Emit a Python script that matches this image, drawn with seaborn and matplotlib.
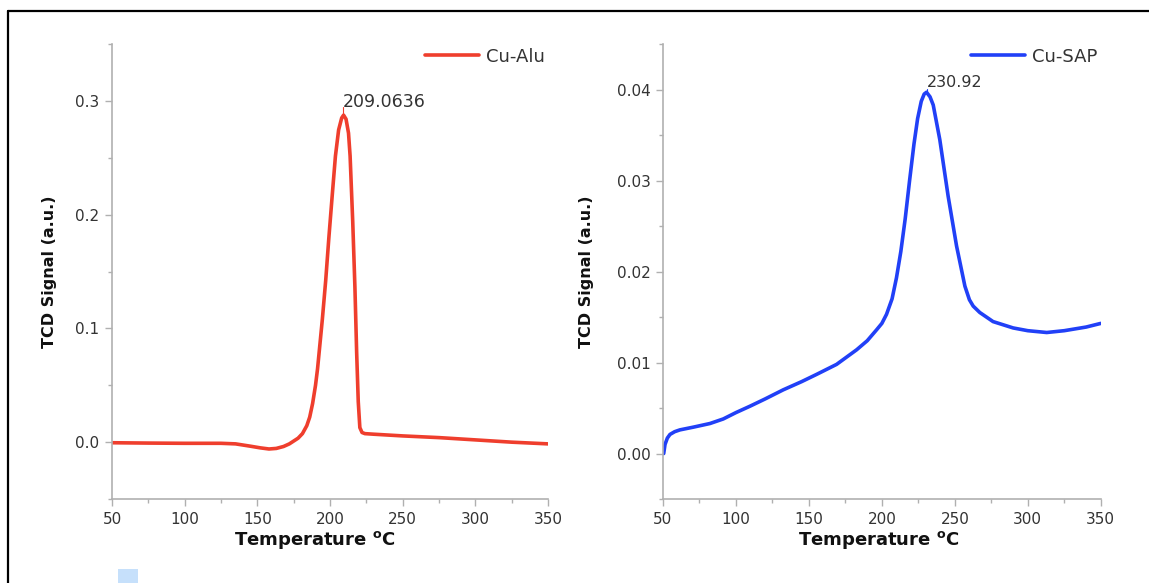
import numpy as np
import pandas as pd
import matplotlib
matplotlib.use("Agg")
import matplotlib.pyplot as plt
from matplotlib.lines import Line2D
from matplotlib.patches import Rectangle
from matplotlib.ticker import MultipleLocator
import seaborn as sns

# ---------------- data ----------------
alu_temp = [50, 75, 100, 125, 135, 145, 152, 158, 163, 168, 172, 175, 178, 181,
            184, 186, 188, 190, 191.4, 194.7, 197, 199.2, 201.5, 203.7, 205.9,
            208, 209.3, 211, 212.7, 213.8, 215.6, 217.1, 218.3, 219.4, 220.5,
            222, 224, 230, 250, 275, 300, 325, 350]
alu_signal = [-0.0005, -0.0008, -0.001, -0.001, -0.0015, -0.0035, -0.005, -0.006,
              -0.0055, -0.0038, -0.0015, 0.001, 0.0035, 0.0075, 0.0145, 0.022,
              0.034, 0.05, 0.0645, 0.108, 0.142, 0.18, 0.217, 0.2515, 0.2745,
              0.285, 0.2875, 0.284, 0.2717, 0.2515, 0.194, 0.1365, 0.079, 0.0357,
              0.0128, 0.0085, 0.0075, 0.007, 0.0055, 0.004, 0.002, 0.0, -0.0015]

sap_temp = [50.5, 51.4, 53, 54.8, 58, 61.6, 70.8, 82.2, 91.3, 100, 109.6, 120,
            132.4, 145, 155.3, 169, 182.7, 190, 196.4, 200, 203.2, 207, 210, 213,
            216, 219, 222, 224.5, 227, 229, 230.6, 233, 235.2, 239.7, 245.4,
            251.2, 256.9, 260, 262.6, 267.1, 276.2, 290, 300, 313, 325, 340, 350]
sap_signal = [0.0, 0.001, 0.0017, 0.0021, 0.0024, 0.0026, 0.0029, 0.0033, 0.0038,
              0.0045, 0.0052, 0.006, 0.007, 0.0079, 0.0087, 0.0098, 0.0114,
              0.0124, 0.0136, 0.0143, 0.0153, 0.017, 0.0193, 0.0222, 0.0258,
              0.03, 0.034, 0.0368, 0.0387, 0.0395, 0.0397, 0.0392, 0.0383,
              0.0345, 0.0283, 0.0228, 0.0184, 0.0169, 0.0162, 0.0155, 0.0145,
              0.0138, 0.0135, 0.0133, 0.0135, 0.0139, 0.0143]

series_labels = ["Cu-Alu", "Cu-SAP"]
peak_labels = ["209.0636", "230.92"]
xticks = [50, 100, 150, 200, 250, 300, 350]
alu_yticks = [0.0, 0.1, 0.2, 0.3]
sap_yticks = [0.00, 0.01, 0.02, 0.03, 0.04]

# ---------------- style ----------------
sns.set_style("ticks")
plt.rcParams['font.family'] = ['DejaVu Sans']
plt.rcParams['mathtext.fontset'] = 'dejavusans'

fig = plt.figure(figsize=(11.49, 5.83), dpi=100)
ax1 = fig.add_axes([0.0975, 0.144, 0.3795, 0.7805])
ax2 = fig.add_axes([0.577, 0.144, 0.381, 0.7805])

spine_col = '#b0b0b0'
tick_lbl_col = '#333333'

panels = [
    (ax1, alu_temp, alu_signal, '#ef3e2d', series_labels[0], peak_labels[0],
     (-0.05, 0.35), alu_yticks, 0.05, '{:.1f}', 0.466, 0.007, 12.5),
    (ax2, sap_temp, sap_signal, '#2140f7', series_labels[1], peak_labels[1],
     (-0.005, 0.045), sap_yticks, 0.005, '{:.2f}', 0.494, 0.0004, 11.5),
]

for (ax, xs, ys, col, lab, plab, ylim, yt, yminor, fmt, xlab_x, stem, afs) in panels:
    df = pd.DataFrame({'Temperature': xs, 'Signal': ys})
    sns.lineplot(data=df, x='Temperature', y='Signal', ax=ax, color=col,
                 linewidth=2.6, label=lab, sort=True, estimator=None)
    for ln in ax.lines:
        ln.set_solid_joinstyle('round')
        ln.set_solid_capstyle('round')
    ax.set_xlim(50, 350)
    ax.set_ylim(*ylim)
    ax.set_xticks(xticks)
    ax.set_yticks(yt)
    ax.set_yticklabels([fmt.format(v) for v in yt])
    ax.xaxis.set_minor_locator(MultipleLocator(25))
    ax.yaxis.set_minor_locator(MultipleLocator(yminor))
    ax.tick_params(axis='both', which='major', direction='out', length=5,
                   width=1, color=spine_col, labelsize=11,
                   labelcolor=tick_lbl_col, pad=4)
    ax.tick_params(axis='both', which='minor', direction='out', length=3,
                   width=1, color=spine_col)
    sns.despine(ax=ax)
    for s in ['left', 'bottom']:
        ax.spines[s].set_color(spine_col)
        ax.spines[s].set_linewidth(1.2)
    ax.set_xlabel(r'Temperature $^{\mathbf{o}}$C', fontsize=13,
                  fontweight='bold', color='#111111')
    ax.xaxis.set_label_coords(xlab_x, -0.066)
    ax.set_ylabel('TCD Signal (a.u.)', fontsize=11.5, fontweight='bold',
                  color='#111111')
    # peak annotation
    i = int(np.argmax(ys))
    px = float(plab)
    py = ys[i]
    ax.plot([px, px], [py, py + stem], color=col, lw=0.8)
    ax.text(px, py + stem * 0.5, plab, fontsize=afs, color='#333333',
            ha='left', va='bottom')
    leg = ax.legend(loc='upper right', bbox_to_anchor=(1.0, 1.0), frameon=False,
                    handlelength=3.0, handletextpad=0.35, borderaxespad=0.0,
                    borderpad=0.2, fontsize=13)
    for t in leg.get_texts():
        t.set_color('#333333')

ax1.yaxis.set_label_coords(-0.126, 0.5)
ax2.yaxis.set_label_coords(-0.157, 0.5)

# figure frame (top and left edges) and small marker square
x0 = 8 / 1149
y0 = 1 - 10.5 / 583
fig.add_artist(Line2D([x0, 1.0], [y0, y0], transform=fig.transFigure,
                      color='black', lw=1.6))
fig.add_artist(Line2D([x0, x0], [0.0, y0], transform=fig.transFigure,
                      color='black', lw=1.6))
fig.patches.append(Rectangle((118 / 1149, 0.0), 20 / 1149, 14 / 583,
                             transform=fig.transFigure, fc='#c6e0fb',
                             ec='none'))

fig.savefig('out.png', dpi=100)
